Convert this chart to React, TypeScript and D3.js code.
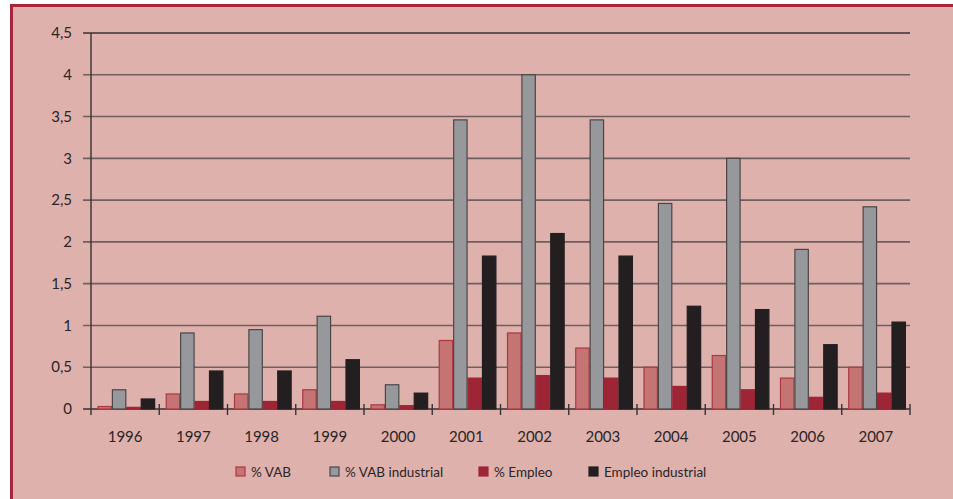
import React from "react";
import * as d3 from "d3";

const years = ["1996","1997","1998","1999","2000","2001","2002","2003","2004","2005","2006","2007"];
const vab = [0.03,0.18,0.18,0.23,0.05,0.82,0.91,0.73,0.5,0.64,0.37,0.5];
const vabInd = [0.23,0.91,0.95,1.11,0.29,3.46,4.0,3.46,2.46,3.0,1.91,2.42];
const empleo = [0.02,0.09,0.09,0.09,0.04,0.37,0.4,0.37,0.27,0.23,0.14,0.19];
const empleoInd = [0.12,0.455,0.455,0.59,0.19,1.83,2.1,1.83,1.23,1.19,0.77,1.04];
const yTicks = [0,0.5,1,1.5,2,2.5,3,3.5,4,4.5];
const seriesNames = ["% VAB","% VAB industrial","% Empleo","Empleo industrial"];

const fills = ["#c37473","#97989c","#9e2536","#231f20"];
const strokes = ["#ad3844","#4a4647","#9e2536","#231f20"];

const W = 953, H = 499;
const left = 91, right = 910, top = 33, bottom = 409;

export default function App() {
  const x = d3.scaleBand<string>().domain(years).range([left, right]).paddingInner(0).paddingOuter(0);
  const y = d3.scaleLinear().domain([0, 4.5]).range([bottom, top]);
  const bw = x.bandwidth();
  const inner = d3.scaleBand<number>().domain([0,1,2,3]).range([0.095 * bw, 0.94 * bw]).paddingOuter(0).paddingInner(0);
  const series = [vab, vabInd, empleo, empleoInd];
  const font = "Lato, 'Open Sans', sans-serif";
  const legendX = [236, 330, 479, 589];

  return (
    <svg width={W} height={H} style={{ position: "absolute", left: 0, top: 0 }}>
      <rect x={0} y={0} width={W} height={H} fill="#ffffff" />
      <rect x={13} y={7} width={W - 13} height={H - 7} fill="#dfb1ac" />
      <rect x={10} y={4} width={3} height={H - 4} fill="#a8263a" />
      <rect x={10} y={4} width={W - 10} height={3} fill="#a8263a" />
      {yTicks.map((t) => (
        <g key={t}>
          <line x1={83} x2={right} y1={y(t)} y2={y(t)} stroke={t === 0 || t === 4.5 ? "#3a3233" : "#6e6060"} strokeWidth={1.6} />
          <text x={72} y={y(t)} dy="0.35em" textAnchor="end" fontFamily={font} fontSize={15} fill="#2a2526">
            {String(t).replace(".", ",")}
          </text>
        </g>
      ))}
      <line x1={left} x2={left} y1={top} y2={415} stroke="#3a3233" strokeWidth={1.4} />
      {years.map((yr) => (
        <line key={"t" + yr} x1={x(yr)! + bw} x2={x(yr)! + bw} y1={404} y2={415} stroke="#3a3233" strokeWidth={1.4} />
      ))}
      {years.map((yr, i) => (
        <g key={yr}>
          {series.map((s, k) => {
            const v = s[i];
            const bx = x(yr)! + inner(k)!;
            const by = y(v);
            return (
              <rect key={k} x={bx + 0.5} y={by} width={inner.bandwidth() - 1} height={bottom - by}
                fill={fills[k]} stroke={strokes[k]} strokeWidth={1.2} />
            );
          })}
          <text x={x(yr)! + bw / 2} y={437} textAnchor="middle" dy="0.35em" fontFamily={font} fontSize={15} fill="#2a2526">
            {yr}
          </text>
        </g>
      ))}
      {seriesNames.map((n, k) => (
        <g key={n}>
          <rect x={legendX[k]} y={467} width={9} height={9} fill={fills[k]} stroke={strokes[k]} strokeWidth={1.2} />
          <text x={legendX[k] + 15} y={472} dy="0.35em" fontFamily={font} fontSize={13.5} fill="#2a2526">{n}</text>
        </g>
      ))}
    </svg>
  );
}
